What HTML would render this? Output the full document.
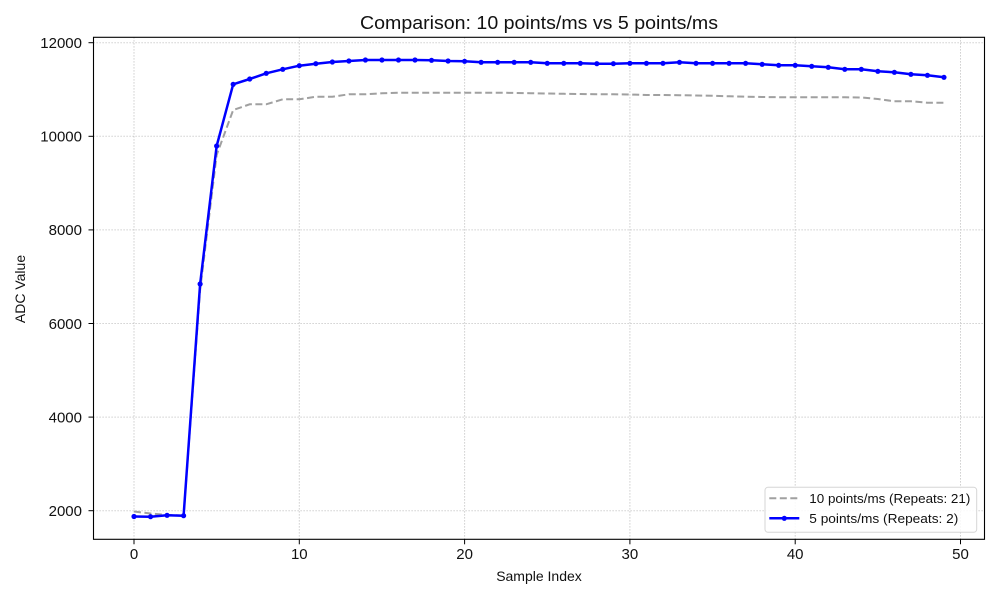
<!DOCTYPE html>
<html><head><meta charset="utf-8"><style>
html,body{margin:0;padding:0;background:#fff;}
svg{display:block;font-family:"Liberation Sans",sans-serif;}
</style></head><body>
<svg width="998" height="599" viewBox="0 0 998 599" xmlns="http://www.w3.org/2000/svg">
<rect width="998" height="599" fill="#fff"/>
<!-- grid -->
<g stroke="#c4c4c4" stroke-width="1" stroke-dasharray="1.2,1.8">
<line x1="134" y1="37.3" x2="134" y2="539.3"/>
<line x1="299.3" y1="37.3" x2="299.3" y2="539.3"/>
<line x1="464.6" y1="37.3" x2="464.6" y2="539.3"/>
<line x1="629.9" y1="37.3" x2="629.9" y2="539.3"/>
<line x1="795.2" y1="37.3" x2="795.2" y2="539.3"/>
<line x1="960.5" y1="37.3" x2="960.5" y2="539.3"/>
<line x1="93.5" y1="42.7" x2="984.5" y2="42.7"/>
<line x1="93.5" y1="136.3" x2="984.5" y2="136.3"/>
<line x1="93.5" y1="229.9" x2="984.5" y2="229.9"/>
<line x1="93.5" y1="323.5" x2="984.5" y2="323.5"/>
<line x1="93.5" y1="417.1" x2="984.5" y2="417.1"/>
<line x1="93.5" y1="510.7" x2="984.5" y2="510.7"/>
</g>
<!-- gray dashed series -->
<polyline fill="none" stroke="#a0a0a0" stroke-width="2" stroke-dasharray="7,3.5" points="134,511.5 150.53,513.5 167.06,515 183.59,515.5 200.12,290 216.65,155 233.18,110 249.71,104.3 266.24,104.3 282.77,99.3 299.3,99.3 315.83,96.7 332.36,96.7 348.89,94.3 365.42,94.3 381.95,93.3 398.48,92.7 415.01,92.7 431.54,92.7 448.07,92.7 464.6,92.7 481.13,92.7 497.66,92.7 514.19,92.9 530.72,93.2 547.25,93.5 563.78,93.8 580.31,94 596.84,94.2 613.37,94.3 629.9,94.5 646.43,95 662.96,95 679.49,95.2 696.02,95.5 712.55,95.8 729.08,96.3 745.61,96.7 762.14,97 778.67,97.2 795.2,97.3 811.73,97.3 828.26,97.3 844.79,97.3 861.32,97.5 877.85,99 894.38,101.3 910.91,101.3 927.44,102.7 943.97,102.7"/>
<!-- blue series -->
<polyline fill="none" stroke="#0000ff" stroke-width="2.5" stroke-linejoin="round" points="134,516.5 150.53,516.7 167.06,515.3 183.59,515.7 200.12,284 216.65,146 233.18,84.3 249.71,79 266.24,73.3 282.77,69.3 299.3,65.7 315.83,63.7 332.36,62 348.89,61 365.42,60 381.95,60 398.48,60 415.01,60 431.54,60.3 448.07,61 464.6,61.3 481.13,62.3 497.66,62.3 514.19,62.3 530.72,62.3 547.25,63.3 563.78,63.3 580.31,63.3 596.84,63.7 613.37,63.7 629.9,63.3 646.43,63.3 662.96,63.3 679.49,62.3 696.02,63.3 712.55,63.3 729.08,63.3 745.61,63.3 762.14,64.3 778.67,65.3 795.2,65.3 811.73,66.3 828.26,67.3 844.79,69.3 861.32,69.3 877.85,71.3 894.38,72.3 910.91,74.3 927.44,75.3 943.97,77.3"/>
<g fill="#0000ff">
<circle cx="134" cy="516.5" r="2.6"/><circle cx="150.53" cy="516.7" r="2.6"/><circle cx="167.06" cy="515.3" r="2.6"/><circle cx="183.59" cy="515.7" r="2.6"/><circle cx="200.12" cy="284" r="2.6"/><circle cx="216.65" cy="146" r="2.6"/><circle cx="233.18" cy="84.3" r="2.6"/><circle cx="249.71" cy="79" r="2.6"/><circle cx="266.24" cy="73.3" r="2.6"/><circle cx="282.77" cy="69.3" r="2.6"/><circle cx="299.3" cy="65.7" r="2.6"/><circle cx="315.83" cy="63.7" r="2.6"/><circle cx="332.36" cy="62" r="2.6"/><circle cx="348.89" cy="61" r="2.6"/><circle cx="365.42" cy="60" r="2.6"/><circle cx="381.95" cy="60" r="2.6"/><circle cx="398.48" cy="60" r="2.6"/><circle cx="415.01" cy="60" r="2.6"/><circle cx="431.54" cy="60.3" r="2.6"/><circle cx="448.07" cy="61" r="2.6"/><circle cx="464.6" cy="61.3" r="2.6"/><circle cx="481.13" cy="62.3" r="2.6"/><circle cx="497.66" cy="62.3" r="2.6"/><circle cx="514.19" cy="62.3" r="2.6"/><circle cx="530.72" cy="62.3" r="2.6"/><circle cx="547.25" cy="63.3" r="2.6"/><circle cx="563.78" cy="63.3" r="2.6"/><circle cx="580.31" cy="63.3" r="2.6"/><circle cx="596.84" cy="63.7" r="2.6"/><circle cx="613.37" cy="63.7" r="2.6"/><circle cx="629.9" cy="63.3" r="2.6"/><circle cx="646.43" cy="63.3" r="2.6"/><circle cx="662.96" cy="63.3" r="2.6"/><circle cx="679.49" cy="62.3" r="2.6"/><circle cx="696.02" cy="63.3" r="2.6"/><circle cx="712.55" cy="63.3" r="2.6"/><circle cx="729.08" cy="63.3" r="2.6"/><circle cx="745.61" cy="63.3" r="2.6"/><circle cx="762.14" cy="64.3" r="2.6"/><circle cx="778.67" cy="65.3" r="2.6"/><circle cx="795.2" cy="65.3" r="2.6"/><circle cx="811.73" cy="66.3" r="2.6"/><circle cx="828.26" cy="67.3" r="2.6"/><circle cx="844.79" cy="69.3" r="2.6"/><circle cx="861.32" cy="69.3" r="2.6"/><circle cx="877.85" cy="71.3" r="2.6"/><circle cx="894.38" cy="72.3" r="2.6"/><circle cx="910.91" cy="74.3" r="2.6"/><circle cx="927.44" cy="75.3" r="2.6"/><circle cx="943.97" cy="77.3" r="2.6"/>
</g>
<!-- spines -->
<rect x="93.5" y="37.3" width="891" height="502" fill="none" stroke="#000" stroke-width="1.1"/>
<!-- ticks -->
<g stroke="#000" stroke-width="1">
<line x1="134" y1="539.3" x2="134" y2="544.3"/>
<line x1="299.3" y1="539.3" x2="299.3" y2="544.3"/>
<line x1="464.6" y1="539.3" x2="464.6" y2="544.3"/>
<line x1="629.9" y1="539.3" x2="629.9" y2="544.3"/>
<line x1="795.2" y1="539.3" x2="795.2" y2="544.3"/>
<line x1="960.5" y1="539.3" x2="960.5" y2="544.3"/>
<line x1="88.5" y1="42.7" x2="93.5" y2="42.7"/>
<line x1="88.5" y1="136.3" x2="93.5" y2="136.3"/>
<line x1="88.5" y1="229.9" x2="93.5" y2="229.9"/>
<line x1="88.5" y1="323.5" x2="93.5" y2="323.5"/>
<line x1="88.5" y1="417.1" x2="93.5" y2="417.1"/>
<line x1="88.5" y1="510.7" x2="93.5" y2="510.7"/>
</g>
<g font-size="15" fill="#111" text-anchor="middle">
<text x="134" y="559">0</text>
<text x="299.3" y="559">10</text>
<text x="464.6" y="559">20</text>
<text x="629.9" y="559">30</text>
<text x="795.2" y="559">40</text>
<text x="960.5" y="559">50</text>
</g>
<g font-size="15" fill="#111" text-anchor="end">
<text x="82" y="48">12000</text>
<text x="82" y="141.6">10000</text>
<text x="82" y="235.2">8000</text>
<text x="82" y="328.8">6000</text>
<text x="82" y="422.4">4000</text>
<text x="82" y="516">2000</text>
</g>
<text x="539" y="29" font-size="18" text-anchor="middle" fill="#111" textLength="358" lengthAdjust="spacingAndGlyphs">Comparison: 10 points/ms vs 5 points/ms</text>
<text x="539" y="581" font-size="14" text-anchor="middle" fill="#111">Sample Index</text>
<text transform="translate(25,289) rotate(-90)" font-size="14" text-anchor="middle" fill="#111">ADC Value</text>
<!-- legend -->
<rect x="765" y="487.3" width="211.7" height="45" rx="3" fill="#fff" fill-opacity="0.85" stroke="#d6d6d6" stroke-width="1"/>
<line x1="769.3" y1="498.3" x2="799.3" y2="498.3" stroke="#a0a0a0" stroke-width="2" stroke-dasharray="7,3.5"/>
<line x1="769.3" y1="518.3" x2="799.3" y2="518.3" stroke="#0000ff" stroke-width="2.5"/>
<circle cx="784.3" cy="518.3" r="2.6" fill="#0000ff"/>
<text x="809.3" y="503" font-size="13" fill="#111" textLength="161" lengthAdjust="spacingAndGlyphs">10 points/ms (Repeats: 21)</text>
<text x="809.3" y="523" font-size="13" fill="#111" textLength="149" lengthAdjust="spacingAndGlyphs">5 points/ms (Repeats: 2)</text>
</svg>
</body></html>
